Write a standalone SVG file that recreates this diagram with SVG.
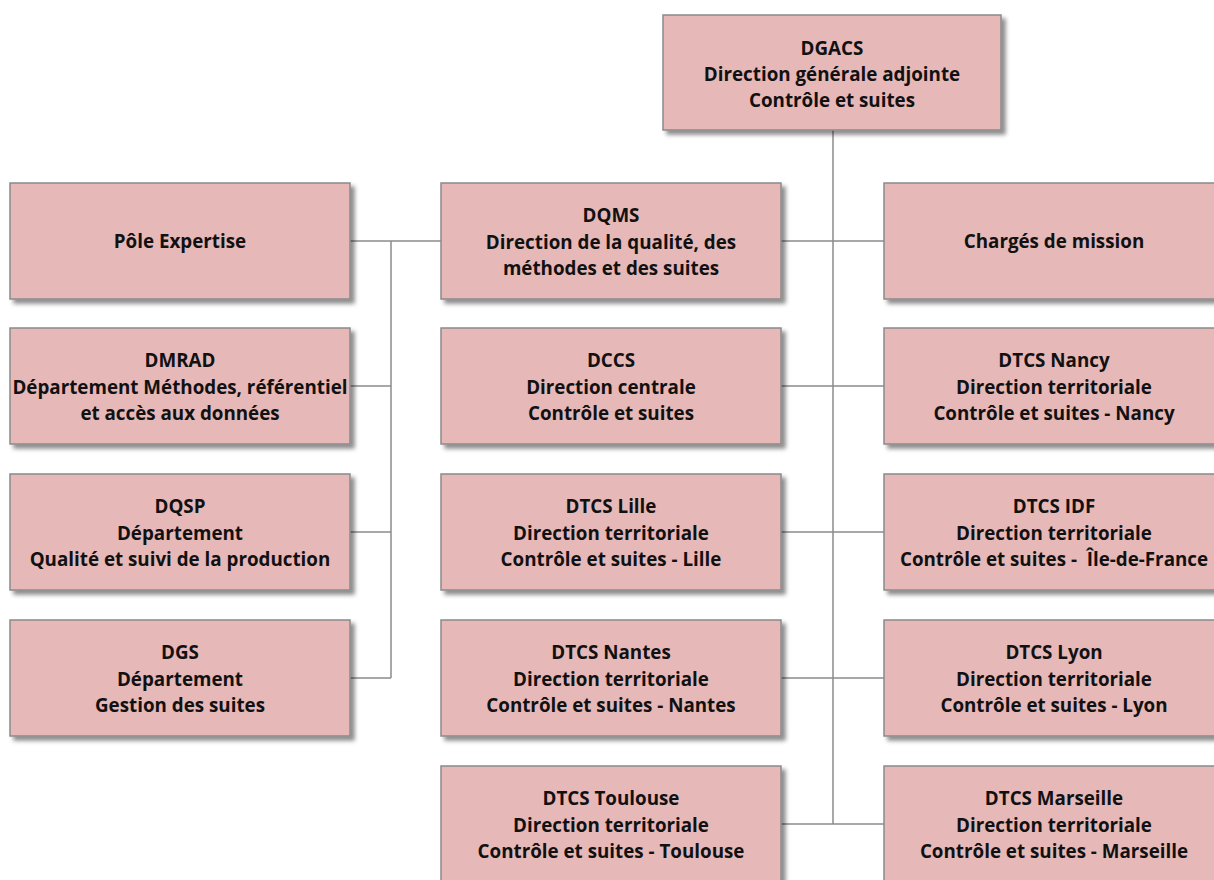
<svg xmlns="http://www.w3.org/2000/svg" width="1214" height="880" viewBox="0 0 1214 880">
<defs>
<filter id="sh" x="-10%" y="-10%" width="130%" height="140%">
<feDropShadow dx="4" dy="4" stdDeviation="2.2" flood-color="#000" flood-opacity="0.45"/>
</filter>
<style>
.box{fill:#e6b8b8;stroke:#8a8a8a;stroke-width:1.5;filter:url(#sh)}
.t{font-family:"Open Sans","Liberation Sans",sans-serif;font-weight:700;font-size:18.8px;fill:#111;text-anchor:middle}
.c{stroke:#8c8c8c;stroke-width:1.5;fill:none}
</style>
</defs>
<rect width="1214" height="880" fill="#fff"/>
<g id="connectors">
<path class="c" d="M833 130V824M781 241H884M781 386H884M781 532H884M781 678H884M781 824H884M350 241H441M391 241V678M350 386H391M350 532H391M350 678H391"/>
</g>
<g id="dgacs"><rect class="box" x="663" y="15" width="338" height="115"/>
<text class="t" x="832" y="55">DGACS</text><text class="t" x="832" y="81">Direction générale adjointe</text><text class="t" x="832" y="107">Contrôle et suites</text></g>
<g id="pole"><rect class="box" x="10" y="183" width="340" height="116"/>
<text class="t" x="180" y="248">Pôle Expertise</text></g>
<g id="dmrad"><rect class="box" x="10" y="328" width="340" height="116"/>
<text class="t" x="180" y="367">DMRAD</text><text class="t" x="180" y="394">Département Méthodes, référentiel</text><text class="t" x="180" y="420">et accès aux données</text></g>
<g id="dqsp"><rect class="box" x="10" y="474" width="340" height="116"/>
<text class="t" x="180" y="513">DQSP</text><text class="t" x="180" y="540">Département</text><text class="t" x="180" y="566">Qualité et suivi de la production</text></g>
<g id="dgs"><rect class="box" x="10" y="620" width="340" height="116"/>
<text class="t" x="180" y="659">DGS</text><text class="t" x="180" y="686">Département</text><text class="t" x="180" y="712">Gestion des suites</text></g>
<g id="dqms"><rect class="box" x="441" y="183" width="340" height="116"/>
<text class="t" x="611" y="222">DQMS</text><text class="t" x="611" y="249">Direction de la qualité, des</text><text class="t" x="611" y="275">méthodes et des suites</text></g>
<g id="dccs"><rect class="box" x="441" y="328" width="340" height="116"/>
<text class="t" x="611" y="367">DCCS</text><text class="t" x="611" y="394">Direction centrale</text><text class="t" x="611" y="420">Contrôle et suites</text></g>
<g id="lille"><rect class="box" x="441" y="474" width="340" height="116"/>
<text class="t" x="611" y="513">DTCS Lille</text><text class="t" x="611" y="540">Direction territoriale</text><text class="t" x="611" y="566">Contrôle et suites - Lille</text></g>
<g id="nantes"><rect class="box" x="441" y="620" width="340" height="116"/>
<text class="t" x="611" y="659">DTCS Nantes</text><text class="t" x="611" y="686">Direction territoriale</text><text class="t" x="611" y="712">Contrôle et suites - Nantes</text></g>
<g id="toulouse"><rect class="box" x="441" y="766" width="340" height="116"/>
<text class="t" x="611" y="805">DTCS Toulouse</text><text class="t" x="611" y="832">Direction territoriale</text><text class="t" x="611" y="858">Contrôle et suites - Toulouse</text></g>
<g id="charges"><rect class="box" x="884" y="183" width="340" height="116"/>
<text class="t" x="1054" y="248">Chargés de mission</text></g>
<g id="nancy"><rect class="box" x="884" y="328" width="340" height="116"/>
<text class="t" x="1054" y="367">DTCS Nancy</text><text class="t" x="1054" y="394">Direction territoriale</text><text class="t" x="1054" y="420">Contrôle et suites - Nancy</text></g>
<g id="idf"><rect class="box" x="884" y="474" width="340" height="116"/>
<text class="t" x="1054" y="513">DTCS IDF</text><text class="t" x="1054" y="540">Direction territoriale</text><text class="t" x="1054" y="566" xml:space="preserve">Contrôle et suites -  Île-de-France</text></g>
<g id="lyon"><rect class="box" x="884" y="620" width="340" height="116"/>
<text class="t" x="1054" y="659">DTCS Lyon</text><text class="t" x="1054" y="686">Direction territoriale</text><text class="t" x="1054" y="712">Contrôle et suites - Lyon</text></g>
<g id="marseille"><rect class="box" x="884" y="766" width="340" height="116"/>
<text class="t" x="1054" y="805">DTCS Marseille</text><text class="t" x="1054" y="832">Direction territoriale</text><text class="t" x="1054" y="858">Contrôle et suites - Marseille</text></g>
</svg>
